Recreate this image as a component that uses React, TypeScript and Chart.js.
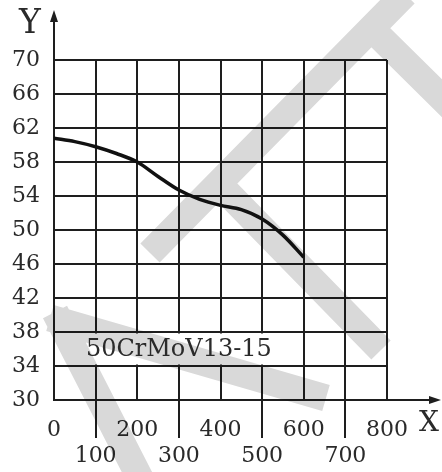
import React, { useEffect, useRef } from "react";
import { Chart, registerables } from "chart.js";

Chart.register(...registerables);

// ---- data ----
const temperatures = [0, 50, 100, 150, 200, 250, 300, 350, 400, 450, 500, 550, 600];
const hardness = [60.8, 60.4, 59.8, 59.0, 58.0, 56.3, 54.7, 53.6, 52.9, 52.4, 51.3, 49.4, 46.8];

const xMin = 0;
const xMax = 800;
const xStep = 100;
const yMin = 30;
const yMax = 70;
const yStep = 4;

const xAxisTitle = "X";
const yAxisTitle = "Y";
const seriesLabel = "50CrMoV13-15";
// label band (in data units): spans x 0..600, y 34..38, label centred at x=300
const labelBandX = [0, 600];
const labelBandY = [34, 38];
const labelCenterX = 300;

const FONT = "'DejaVu Serif', serif";
const INK = "#1e1e1e";
const TEXT = "#2a2a2a";

// watermark strokes (decorative, page pixels)
const watermark: number[][] = [
  [405, -6, 150, 253],
  [378, 35, 462, 118],
  [215, 180, 381, 350],
  [50, 318, 326, 398],
  [55, 312, 142, 482],
];

const decor = {
  id: "decor",
  beforeDatasetsDraw(chart: any) {
    const { ctx, scales } = chart;
    const x = scales.x;
    const y = scales.y;
    ctx.save();
    // clear grid inside label band
    const bx0 = x.getPixelForValue(labelBandX[0]) + 1.5;
    const bx1 = x.getPixelForValue(labelBandX[1]) - 1.5;
    const by0 = y.getPixelForValue(labelBandY[1]) + 1.5;
    const by1 = y.getPixelForValue(labelBandY[0]) - 1.5;
    ctx.fillStyle = "#ffffff";
    ctx.fillRect(bx0, by0, bx1 - bx0, by1 - by0);
    // watermark
    ctx.globalCompositeOperation = "multiply";
    ctx.strokeStyle = "#d9d9d9";
    ctx.lineWidth = 27;
    ctx.lineCap = "butt";
    ctx.beginPath();
    for (const [a, b, c, d] of watermark) {
      ctx.moveTo(a, b);
      ctx.lineTo(c, d);
    }
    ctx.stroke();
    ctx.restore();
  },
  afterDraw(chart: any) {
    const { ctx, chartArea, scales } = chart;
    const x = scales.x;
    const y = scales.y;
    ctx.save();
    ctx.strokeStyle = INK;
    ctx.fillStyle = INK;
    ctx.lineWidth = 2;
    const left = chartArea.left;
    const bottom = chartArea.bottom;
    // y axis arrow
    ctx.beginPath();
    ctx.moveTo(left, chartArea.top);
    ctx.lineTo(left, 18);
    ctx.stroke();
    ctx.beginPath();
    ctx.moveTo(left, 10);
    ctx.lineTo(left - 4, 22);
    ctx.lineTo(left + 4, 22);
    ctx.closePath();
    ctx.fill();
    // x axis arrow
    ctx.beginPath();
    ctx.moveTo(chartArea.right, bottom);
    ctx.lineTo(432, bottom);
    ctx.stroke();
    ctx.beginPath();
    ctx.moveTo(441, bottom);
    ctx.lineTo(429, bottom - 4);
    ctx.lineTo(429, bottom + 4);
    ctx.closePath();
    ctx.fill();
    // axis titles
    ctx.fillStyle = TEXT;
    ctx.textAlign = "center";
    ctx.textBaseline = "alphabetic";
    ctx.font = `33px ${FONT}`;
    ctx.fillText(yAxisTitle, 30, 33);
    ctx.font = `28px ${FONT}`;
    ctx.fillText(xAxisTitle, 429, 431);
    // series label
    ctx.font = `24px ${FONT}`;
    ctx.textBaseline = "middle";
    ctx.fillText(
      seriesLabel,
      x.getPixelForValue(labelCenterX),
      y.getPixelForValue((labelBandY[0] + labelBandY[1]) / 2) + 1
    );
    ctx.restore();
  },
};

export default function App() {
  const canvasRef = useRef<HTMLCanvasElement | null>(null);

  useEffect(() => {
    const canvas = canvasRef.current;
    if (!canvas) return;
    const chart = new Chart(canvas, {
      type: "line",
      data: {
        datasets: [
          {
            label: seriesLabel,
            data: temperatures.map((t, i) => ({ x: t, y: hardness[i] })),
            borderColor: "#111111",
            borderWidth: 3.5,
            pointRadius: 0,
            cubicInterpolationMode: "monotone",
            fill: false,
          },
        ],
      },
      options: {
        animation: false,
        responsive: true,
        maintainAspectRatio: false,
        layout: { padding: { top: 60, right: 55, left: 0, bottom: 0 } },
        plugins: { legend: { display: false }, tooltip: { enabled: false } },
        scales: {
          x: {
            type: "linear",
            min: xMin,
            max: xMax,
            afterFit: (s: any) => {
              s.height = 72;
            },
            ticks: {
              stepSize: xStep,
              autoSkip: false,
              maxRotation: 0,
              padding: -21,
              color: TEXT,
              font: { family: FONT, size: 22, lineHeight: 1.2 },
              callback: (value: any) => {
                const v = Number(value);
                return Math.round(v / xStep) % 2 === 0 ? [String(v), ""] : ["", String(v)];
              },
            },
            grid: {
              color: INK,
              lineWidth: 2,
              drawTicks: true,
              tickLength: 38,
              tickWidth: 2,
              tickColor: (ctx: any) => {
                const v = ctx.tick ? ctx.tick.value : 0;
                return Math.round(v / xStep) % 2 === 1 ? INK : "rgba(0,0,0,0)";
              },
            },
            border: { display: true, color: INK, width: 2 },
          },
          y: {
            type: "linear",
            min: yMin,
            max: yMax,
            afterFit: (s: any) => {
              s.width = 54;
            },
            ticks: {
              stepSize: yStep,
              padding: 14,
              color: TEXT,
              font: { family: FONT, size: 22 },
            },
            grid: { color: INK, lineWidth: 2, drawTicks: false },
            border: { display: true, color: INK, width: 2 },
          },
        },
      },
      plugins: [decor],
    });
    return () => chart.destroy();
  }, []);

  return (
    <div style={{ position: "fixed", left: 0, top: 0, width: 442, height: 472, background: "#fff" }}>
      <canvas ref={canvasRef} />
    </div>
  );
}
